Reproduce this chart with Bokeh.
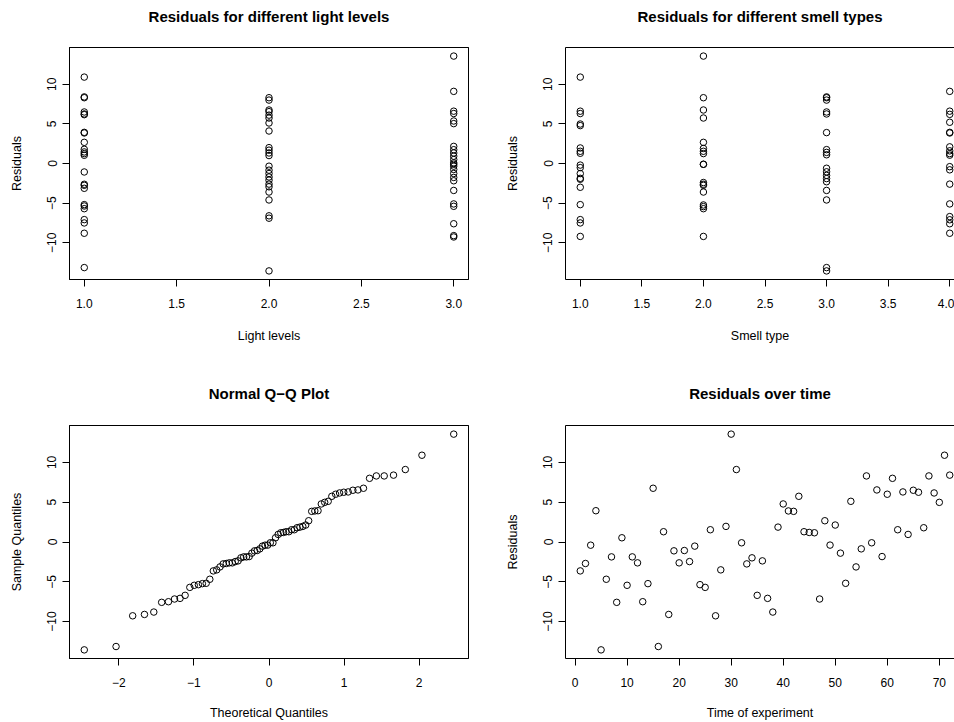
from statistics import NormalDist
from bokeh.plotting import figure
from bokeh.models import FixedTicker, LinearAxis, Range1d, CustomJSTickFormatter
from bokeh.layouts import column, row
from bokeh.embed import file_html
from bokeh.resources import INLINE

FONT = "Liberation Sans"

# ---------------- data ----------------
time_resid = [-3.63, -2.70, -0.40, 3.93, -13.55, -4.68, -1.87, -7.58, 0.53, -5.44,
              -1.87, -2.62, -7.50, -5.23, 6.75, -13.13, 1.29, -9.10, -1.11, -2.62,
              -1.07, -2.46, -0.52, -5.36, -5.70, 1.54, -9.27, -3.50, 1.96, 13.55,
              9.10, -0.10, -2.75, -1.99, -6.70, -2.37, -7.08, -8.80, 1.87, 4.78,
              3.90, 3.85, 5.74, 1.29, 1.20, 1.16, -7.16, 2.67, -0.39, 2.13,
              -1.40, -5.19, 5.11, -3.13, -0.86, 8.30, -0.10, 6.54, -1.83, 6.00,
              8.00, 1.54, 6.29, 0.95, 6.50, 6.25, 1.79, 8.30, 6.16, 4.98,
              10.90, 8.40]
time_index = list(range(1, len(time_resid) + 1))

light1 = [10.90, 8.40, 8.30, 6.50, 6.25, 6.16, 3.93, 3.85, 2.67, 1.79, 1.46, 1.25,
          1.04, -1.07, -2.62, -2.75, -3.13, -5.19, -5.36, -5.70, -7.08, -7.50, -8.80, -13.13]
light2 = [8.30, 8.00, 6.75, 6.54, 6.10, 5.74, 5.11, 4.10, 2.00, 1.68, 1.33, 1.00,
          -0.34, -0.84, -1.26, -1.70, -2.10, -2.60, -2.94, -3.60, -4.60, -6.60, -6.90, -13.55]
light3 = [13.55, 9.10, 6.60, 6.30, 5.36, 5.03, 2.16, 1.74, 1.33, 0.92, 0.50, 0.08,
          -0.10, -0.34, -0.75, -1.26, -1.76, -2.18, -3.40, -5.10, -5.40, -7.60, -9.10, -9.27]

smell1 = [10.90, 6.60, 6.30, 4.98, 4.78, 1.96, 1.54, 1.29, -0.20, -0.52, -1.27, -1.87,
          -1.99, -3.00, -5.19, -7.08, -7.50, -9.20]
smell2 = [13.55, 8.30, 6.75, 5.74, 2.67, 1.90, 1.54, 1.25, -0.10, -0.10, -2.40, -2.62,
          -2.75, -3.60, -5.23, -5.44, -5.70, -9.20]
smell3 = [8.40, 8.30, 8.00, 6.50, 6.25, 3.90, 1.75, 1.40, 1.10, -0.60, -1.05, -1.50,
          -1.90, -2.30, -3.40, -4.60, -13.13, -13.55]
smell4 = [9.10, 6.60, 6.20, 5.20, 3.93, 3.85, 2.10, 1.60, 1.25, 1.05, -0.40, -0.80,
          -2.60, -5.10, -6.70, -7.10, -7.60, -8.80]

light_ticks = [1.0, 1.5, 2.0, 2.5, 3.0]
smell_ticks = [1.0, 1.5, 2.0, 2.5, 3.0, 3.5, 4.0]
qq_ticks = [-2, -1, 0, 1, 2]
time_ticks = [0, 10, 20, 30, 40, 50, 60, 70]
resid_ticks = [-10, -5, 0, 5, 10]

# ---------------- derived ----------------
light_x = [1] * len(light1) + [2] * len(light2) + [3] * len(light3)
light_y = light1 + light2 + light3
smell_x = [1] * len(smell1) + [2] * len(smell2) + [3] * len(smell3) + [4] * len(smell4)
smell_y = smell1 + smell2 + smell3 + smell4

n = len(time_resid)
sample_q = sorted(time_resid)
theo_q = [NormalDist().inv_cdf((i + 0.5) / n) for i in range(n)]


def pad(vals):
    lo, hi = min(vals), max(vals)
    d = (hi - lo) * 0.04
    return lo - d, hi + d


VISIBLE = 389.0 / 399.0  # right column is cut by the page edge


def fmt(dec):
    return CustomJSTickFormatter(code="return (tick < 0 ? '\\u2212' : '') + Math.abs(tick).toFixed(%d);" % dec)


def make(xs, ys, xticks, xdec, xtitle, ytitle, title, top, right_col):
    xlo, xhi = pad(xs)
    if right_col:
        xhi = xlo + (xhi - xlo) * VISIBLE
    ylo, yhi = pad(ys)
    if right_col:
        w, mbl, mbr = 466, 77, 0
    else:
        w, mbl, mbr = 488, 69, 20
    if top:
        h, mbt, mbb = 361, 47, 82
    else:
        h, mbt, mbb = 361, 64, 64
    p = figure(width=w, height=h, x_range=Range1d(xlo, xhi), y_range=Range1d(ylo, yhi),
               output_backend="svg", toolbar_location=None, title=None,
               min_border_left=mbl, min_border_right=mbr, min_border_top=mbt, min_border_bottom=mbb)
    p.xgrid.visible = False
    p.ygrid.visible = False
    p.background_fill_color = "white"
    p.border_fill_color = "white"
    xa = p.below[0]
    ya = p.left[0]
    # title drawn as the label of an (otherwise empty) axis above the frame
    top_ax = LinearAxis(ticker=FixedTicker(ticks=[]), major_tick_out=0, major_tick_in=0,
                        major_label_standoff=0, axis_line_color="black", axis_line_width=1,
                        major_label_text_font_size="0px", minor_tick_line_color=None,
                        axis_label=title, axis_label_standoff=23 if top else 24,
                        axis_label_text_font=FONT, axis_label_text_font_size="15px",
                        axis_label_text_font_style="bold", axis_label_text_color="black")
    p.add_layout(top_ax, "above")
    if right_col:
        p.outline_line_color = None
    else:
        p.outline_line_color = "black"
        p.outline_line_alpha = 1.0
        p.outline_line_width = 1

    xa.ticker = FixedTicker(ticks=xticks)
    xa.formatter = fmt(xdec)
    ya.ticker = FixedTicker(ticks=resid_ticks)
    ya.formatter = fmt(0)
    ya.major_label_orientation = "vertical"
    for ax in (xa, ya):
        ax.major_tick_out = 7
        ax.major_tick_in = 0
        ax.minor_tick_line_color = None
        ax.axis_line_color = "black"
        ax.major_tick_line_color = "black"
        ax.major_label_text_font = FONT
        ax.major_label_text_font_size = "12px"
        ax.major_label_text_color = "black"
        ax.axis_label_text_font = FONT
        ax.axis_label_text_font_size = "12.5px"
        ax.axis_label_text_font_style = "normal"
        ax.axis_label_text_color = "black"
    xa.axis_label = xtitle
    ya.axis_label = ytitle
    xa.major_label_standoff = 12
    xa.axis_label_standoff = 18 if top else 16
    ya.major_label_standoff = 6
    ya.axis_label_standoff = 21

    p.scatter(xs, ys, marker="circle", size=6.5, fill_color=None,
              line_color="black", line_width=1)
    return p


p1 = make(light_x, light_y, light_ticks, 1, "Light levels", "Residuals",
          "Residuals for different light levels", True, False)
p2 = make(smell_x, smell_y, smell_ticks, 1, "Smell type", "Residuals",
          "Residuals for different smell types", True, True)
p3 = make(theo_q, sample_q, qq_ticks, 0, "Theoretical Quantiles", "Sample Quantiles",
          "Normal Q\u2212Q Plot", False, False)
p4 = make(time_index, time_resid, time_ticks, 0, "Time of experiment", "Residuals",
          "Residuals over time", False, True)

layout = column(row(p1, p2), row(p3, p4))
open("out.html", "w").write(file_html(layout, INLINE))
